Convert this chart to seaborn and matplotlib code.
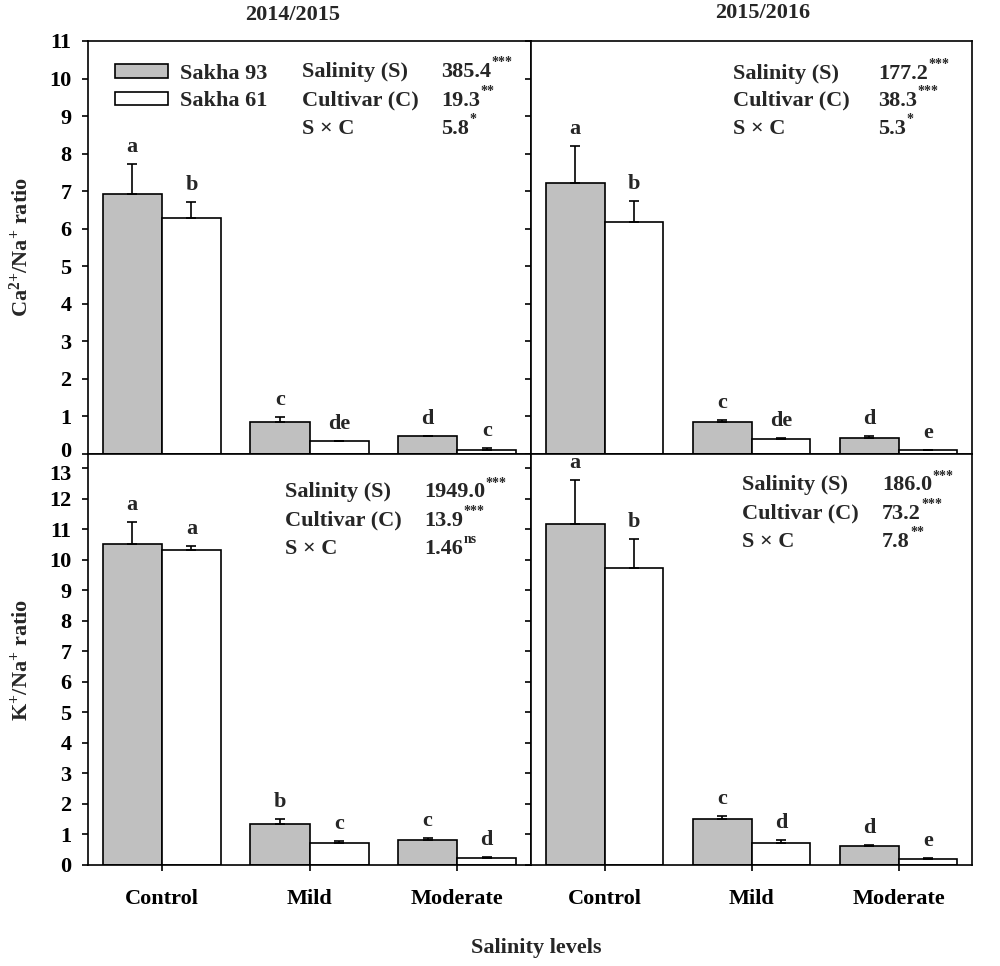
import numpy as np
import pandas as pd
import matplotlib
matplotlib.use('Agg')
import matplotlib.pyplot as plt
import matplotlib.transforms as mtransforms
import seaborn as sns

# Salinity levels and cultivars
levels = ['Control', 'Mild', 'Moderate']
cultivars = ['Sakha 93', 'Sakha 61']

# Ca2+/Na+ ratio, 2014/2015
ca14_s93 = [6.93, 0.86, 0.47]
ca14_s61 = [6.29, 0.34, 0.11]
ca14_err_s93 = [0.80, 0.13, 0.02]
ca14_err_s61 = [0.41, 0.02, 0.04]
ca14_let_s93 = ['a', 'c', 'd']
ca14_let_s61 = ['b', 'de', 'c']

# Ca2+/Na+ ratio, 2015/2016
ca15_s93 = [7.21, 0.86, 0.43]
ca15_s61 = [6.18, 0.39, 0.11]
ca15_err_s93 = [1.00, 0.04, 0.05]
ca15_err_s61 = [0.55, 0.04, 0.01]
ca15_let_s93 = ['a', 'c', 'd']
ca15_let_s61 = ['b', 'de', 'e']

# K+/Na+ ratio, 2014/2015
k14_s93 = [10.53, 1.35, 0.83]
k14_s61 = [10.33, 0.72, 0.24]
k14_err_s93 = [0.70, 0.16, 0.05]
k14_err_s61 = [0.14, 0.06, 0.01]
k14_let_s93 = ['a', 'b', 'c']
k14_let_s61 = ['a', 'c', 'd']

# K+/Na+ ratio, 2015/2016
k15_s93 = [11.16, 1.51, 0.63]
k15_s61 = [9.74, 0.72, 0.20]
k15_err_s93 = [1.47, 0.09, 0.01]
k15_err_s61 = [0.94, 0.11, 0.04]
k15_let_s93 = ['a', 'c', 'd']
k15_let_s61 = ['b', 'd', 'e']

# ANOVA F values and significance marks
stat_names = ['Salinity (S)', 'Cultivar (C)', 'S × C']
ca14_vals = ['385.4', '19.3', '5.8']
ca14_sig = ['***', '**', '*']
ca15_vals = ['177.2', '38.3', '5.3']
ca15_sig = ['***', '***', '*']
k14_vals = ['1949.0', '13.9', '1.46']
k14_sig = ['***', '***', 'ns']
k15_vals = ['186.0', '73.2', '7.8']
k15_sig = ['***', '***', '**']

sns.set_theme(style='ticks')
plt.rcParams['font.family'] = ['Liberation Serif', 'DejaVu Serif']
plt.rcParams['font.weight'] = 'bold'
plt.rcParams['axes.labelweight'] = 'bold'
plt.rcParams['mathtext.fontset'] = 'custom'
plt.rcParams['mathtext.rm'] = 'Liberation Serif:bold'
plt.rcParams['mathtext.it'] = 'Liberation Serif:bold'
plt.rcParams['mathtext.bf'] = 'Liberation Serif:bold'
plt.rcParams['mathtext.default'] = 'rm'

LW = 1.2
FS = 16


def draw_panel(ax, s93, s61, e93, e61, l93, l61, vals, sigs, lab_x, val_x, rows_y, ymax, legend=False):
    df = pd.DataFrame({
        'level': levels * 2,
        'cultivar': [c for c in cultivars for _ in levels],
        'value': s93 + s61,
    })
    sns.barplot(data=df, x='level', y='value', hue='cultivar', order=levels,
                hue_order=cultivars, palette=['#c0c0c0', 'white'],
                edgecolor='black', linewidth=LW, width=0.8, errorbar=None,
                ax=ax, legend=legend)
    for cont, errs, lets in zip(ax.containers, [e93, e61], [l93, l61]):
        for bar, err, let in zip(cont, errs, lets):
            xc = bar.get_x() + bar.get_width() / 2
            top = bar.get_height()
            ax.errorbar(xc, top, yerr=[[0], [err]], fmt='none', ecolor='black',
                        elinewidth=LW, capsize=3.6, capthick=LW)
            ax.annotate(let, (xc, top + err), xytext=(0, 5), textcoords='offset points',
                        ha='center', va='bottom', fontsize=FS, fontweight='bold')
    for name, val, sig, y in zip(stat_names, vals, sigs, rows_y):
        ax.text(lab_x, y, name, transform=ax.transAxes, fontsize=FS, va='baseline')
        t = ax.text(val_x, y, val, transform=ax.transAxes, fontsize=FS, va='baseline')
        ax.annotate(sig, xy=(1, 0.95), xycoords=t, xytext=(0.5, 0), textcoords='offset points',
                    ha='left', va='center', fontsize=10, fontweight='bold')
    ax.set_xlim(-0.5, 2.5)
    ax.set_ylim(0, ymax)
    ax.set_xlabel('')
    ax.set_ylabel('')
    for sp in ax.spines.values():
        sp.set_visible(True)
        sp.set_linewidth(LW)
        sp.set_color('black')
    ax.tick_params(direction='out', length=4, width=LW, colors='black',
                   labelsize=FS, pad=8)
    ax.tick_params(axis='x', pad=13.5)
    if legend:
        handles, labels = ax.get_legend_handles_labels()
        ax.legend(handles, labels, loc='upper left', bbox_to_anchor=(0.06, 0.945),
                  frameon=False, fontsize=FS, handlelength=2.4, handleheight=0.55,
                  handletextpad=0.55, labelspacing=0.35, borderpad=0, borderaxespad=0)


fig = plt.figure(figsize=(10, 9.66), dpi=100)
ax1 = fig.add_axes([0.088, 0.530, 0.443, 0.4276])
ax2 = fig.add_axes([0.531, 0.530, 0.441, 0.4276])
ax3 = fig.add_axes([0.088, 0.1046, 0.443, 0.4254])
ax4 = fig.add_axes([0.531, 0.1046, 0.441, 0.4254])

draw_panel(ax1, ca14_s93, ca14_s61, ca14_err_s93, ca14_err_s61, ca14_let_s93, ca14_let_s61,
           ca14_vals, ca14_sig, 0.483, 0.797, [0.913, 0.843, 0.775], 11, legend=True)
draw_panel(ax2, ca15_s93, ca15_s61, ca15_err_s93, ca15_err_s61, ca15_let_s93, ca15_let_s61,
           ca15_vals, ca15_sig, 0.458, 0.787, [0.908, 0.843, 0.775], 11)
draw_panel(ax3, k14_s93, k14_s61, k14_err_s93, k14_err_s61, k14_let_s93, k14_let_s61,
           k14_vals, k14_sig, 0.445, 0.758, [0.895, 0.825, 0.757], 13.47)
draw_panel(ax4, k15_s93, k15_s61, k15_err_s93, k15_err_s61, k15_let_s93, k15_let_s61,
           k15_vals, k15_sig, 0.478, 0.796, [0.912, 0.842, 0.774], 13.47)

for ax in (ax1, ax2):
    ax.set_yticks(range(0, 12))
    ax.set_xticklabels([])
for ax in (ax3, ax4):
    ax.set_yticks(range(0, 14))
for ax in (ax2, ax4):
    ax.set_yticklabels([])

# "0" of the upper panel and "13" of the lower panel sit next to each other
up = mtransforms.ScaledTranslation(0, 3 / 72, fig.dpi_scale_trans)
down = mtransforms.ScaledTranslation(0, -3 / 72, fig.dpi_scale_trans)
lab0 = ax1.yaxis.get_major_ticks()[0].label1
lab0.set_transform(lab0.get_transform() + up)
lab13 = ax3.yaxis.get_major_ticks()[-1].label1
lab13.set_transform(lab13.get_transform() + down)

ax1.set_ylabel('Ca$^{2{+}}$/Na$^{+}$ ratio', fontsize=FS)
ax3.set_ylabel('K$^{+}$/Na$^{+}$ ratio', fontsize=FS)
ax1.yaxis.set_label_coords(-0.125, 0.5)
ax3.yaxis.set_label_coords(-0.125, 0.5)

fig.text(0.293, 1 - 15 / 966, '2014/2015', ha='center', va='center', fontsize=16, fontweight='bold')
fig.text(0.763, 1 - 13 / 966, '2015/2016', ha='center', va='center', fontsize=16, fontweight='bold')
fig.text(0.536, 1 - 948 / 966, 'Salinity levels', ha='center', va='center', fontsize=FS, fontweight='bold')

fig.savefig('out.png', dpi=100, facecolor='white')
